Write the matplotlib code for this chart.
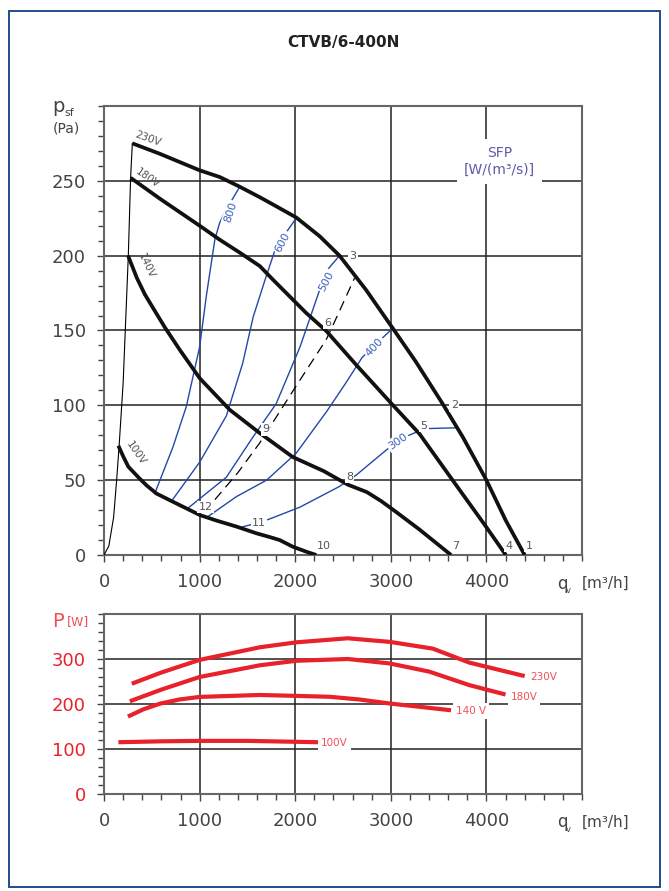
import matplotlib
matplotlib.use("Agg")
import matplotlib.pyplot as plt
from matplotlib.ticker import MultipleLocator
from matplotlib.patches import Rectangle

plt.rcParams['font.family'] = ['DejaVu Sans']

# pressure curves p_sf [Pa] vs q_v [m3/h]
q_230 = [296, 585, 1000, 1211, 1420, 1630, 1800, 2010, 2255, 2463, 2742, 3020, 3263, 3542, 3751, 4000, 4203, 4400]
p_230 = [275, 268, 257, 252.5, 246, 239, 233, 225.5, 213, 200, 177, 151.5, 129, 101, 79, 50, 23, 0]
q_180 = [278, 585, 1000, 1211, 1420, 1630, 1766, 2116, 2324, 2638, 3003, 3299, 3646, 3995, 4203]
p_180 = [252, 238, 220, 210.6, 202, 193, 184, 161.6, 149.7, 127, 101.4, 81, 50, 19, 0]
q_140 = [251, 344, 428, 532, 637, 793, 1002, 1315, 1628, 1973, 2300, 2550, 2750, 2900, 3050, 3300, 3630]
p_140 = [200, 185, 174, 163, 152, 137, 118, 97, 81.5, 65.5, 56, 47, 42, 36, 29, 17, 0]
q_100 = [150, 202, 254, 358, 445, 550, 723, 1002, 1176, 1385, 1594, 1733, 1837, 1976, 2116, 2220]
p_100 = [73, 65.7, 59, 52, 46.5, 41, 35.5, 26.7, 23, 19, 14.5, 12, 10, 5.5, 2.2, 0]

# thin system curve through the start points
q_sys = [0, 50, 100, 132, 160, 200, 254, 278, 296]
p_sys = [0, 6, 25, 50, 75, 115, 200, 252, 275]

# dashed curve 12-9-6
q_dash = [1160, 1400, 1630, 1980, 2325, 2420, 2620]
p_dash = [37, 55, 75, 110, 144, 157, 185]

# SFP iso lines [W/(m3/s)]
sfp_names = ["800", "600", "500", "400", "300"]
sfp_q = [
    [530, 720, 860, 1000, 1070, 1160, 1210, 1280, 1420],
    [706, 1000, 1280, 1450, 1560, 1680, 1800, 1900, 2010],
    [863, 1280, 1560, 1800, 2050, 2255, 2330, 2463],
    [1072, 1385, 1700, 2010, 2330, 2530, 2700, 2830, 3020],
    [1400, 1620, 1750, 2050, 2460, 2640, 2950, 3070, 3190, 3280, 3400, 3700],
]
sfp_p = [
    [41, 72, 99, 139, 173, 211, 222, 231, 246],
    [36, 62, 93, 128, 159, 183, 206, 215, 225],
    [30.5, 52, 79, 101, 139, 177, 190, 200],
    [25, 39, 50, 68, 96, 115, 132, 140, 151.5],
    [18, 21.6, 24.5, 32, 45.7, 53.5, 70, 75.7, 80, 82.4, 84.5, 85],
]
sfp_label_pos = [(1322, 229), (1865, 209), (2324, 183), (2829, 139), (3072, 76)]
sfp_label_rot = [72, 62, 62, 47, 35]

# operating point numbers
pt_names = ["1", "2", "3", "4", "5", "6", "7", "8", "9", "10", "11", "12"]
pt_q = [4447, 3664, 2603, 4238, 3344, 2338, 3681, 2568, 1688, 2296, 1621, 1061]
pt_p = [6, 100, 200, 6, 86.5, 155, 6, 52, 84, 6, 21.6, 32]

# power curves P [W]
pq_230 = [290, 600, 1000, 1630, 2010, 2550, 2990, 3440, 3820, 4400]
pw_230 = [245, 270, 298, 326, 337, 346, 338, 323, 292, 262]
pq_180 = [270, 600, 1000, 1630, 2010, 2550, 2990, 3400, 3820, 4200]
pw_180 = [206, 232, 260, 286, 296, 300, 290, 272, 242, 221]
pq_140 = [250, 410, 590, 790, 1000, 1630, 2010, 2360, 2670, 2990, 3630]
pw_140 = [172, 188, 201, 210, 215.7, 220, 218, 216, 210, 201, 186]
pq_100 = [150, 600, 1000, 1500, 2000, 2240]
pw_100 = [115, 117, 118, 118, 116, 115]

grey = '#555555'
blue = '#2448a8'
red = '#e8212b'
red_txt = '#f0505a'

fig = plt.figure(figsize=(6.69, 8.91), dpi=100)
fig.patches.append(Rectangle((0.014, 0.005), 0.972, 0.983, transform=fig.transFigure,
                             fill=False, edgecolor='#1f4e8c', linewidth=1.4))

fig.text(0.514, 0.952, "CTVB/6-400N", ha='center', va='center',
         fontsize=11, fontweight='bold', color='#222222')

W = 0.7145
ax = fig.add_axes([0.1555, 0.3771, W, 0.504])
ax2 = fig.add_axes([0.1555, 0.1089, W, 0.2020])


def style_axes(a, ymax, ymajor, yminor, ycolor):
    a.set_xlim(0, 5000)
    a.set_ylim(0, ymax)
    a.xaxis.set_major_locator(MultipleLocator(1000))
    a.xaxis.set_minor_locator(MultipleLocator(200))
    a.yaxis.set_major_locator(MultipleLocator(ymajor))
    a.yaxis.set_minor_locator(MultipleLocator(yminor))
    a.set_xticks([0, 1000, 2000, 3000, 4000])
    a.grid(True, which='major', color='#222222', linewidth=1.1, zorder=1)
    a.set_axisbelow(True)
    for s in a.spines.values():
        s.set_color('#666666')
        s.set_linewidth(1.5)
    a.tick_params(which='both', direction='out', color='#444444', width=1.0)
    a.tick_params(which='major', length=5, labelsize=13, pad=8)
    a.tick_params(which='minor', length=4)
    a.tick_params(axis='x', labelcolor='#444444')
    a.tick_params(axis='y', labelcolor=ycolor)


style_axes(ax, 300, 50, 10, '#444444')
style_axes(ax2, 400, 100, 20, red)
ax.set_yticks([0, 50, 100, 150, 200, 250])
ax2.set_yticks([0, 100, 200, 300])

# top chart
ax.plot(q_sys, p_sys, color='black', linewidth=0.8, zorder=3)
for qq, pp in zip(sfp_q, sfp_p):
    ax.plot(qq, pp, color=blue, linewidth=1.0, zorder=3)
ax.plot(q_dash, p_dash, color='black', linewidth=0.9, dashes=(8, 5), zorder=3)
for qq, pp in [(q_230, p_230), (q_180, p_180), (q_140, p_140), (q_100, p_100)]:
    ax.plot(qq, pp, color='#111111', linewidth=2.7, solid_capstyle='butt',
            solid_joinstyle='round', zorder=4)

wbox = dict(facecolor='white', edgecolor='none', pad=1.0)
for name, (x, y), rot in zip(sfp_names, sfp_label_pos, sfp_label_rot):
    ax.text(x, y, name, color='#3a62c0', fontsize=8, rotation=rot, ha='center', va='center',
            bbox=wbox, zorder=5)
for name, x, y in zip(pt_names, pt_q, pt_p):
    ax.text(x, y, name, color=grey, fontsize=8, ha='center', va='center',
            bbox=wbox, zorder=5)

ax.text(459, 278, "230V", color=grey, fontsize=7.5, rotation=-20, ha='center', va='center', zorder=5)
ax.text(459, 252, "180V", color=grey, fontsize=7.5, rotation=-35, ha='center', va='center', zorder=5)
ax.text(440, 193, "140V", color=grey, fontsize=7.5, rotation=-65, ha='center', va='center', zorder=5)
ax.text(330, 68, "100V", color=grey, fontsize=7.5, rotation=-55, ha='center', va='center', zorder=5)

ax.text(4134, 263, "SFP\n[W/(m³/s)]", color='#5c5ca8', fontsize=10, ha='center', va='center',
        linespacing=1.3, zorder=5,
        bbox=dict(facecolor='white', edgecolor='none', boxstyle='square,pad=0.5'))

# bottom chart
for qq, ww in [(pq_230, pw_230), (pq_180, pw_180), (pq_140, pw_140), (pq_100, pw_100)]:
    ax2.plot(qq, ww, color=red, linewidth=3.0, solid_capstyle='butt',
             solid_joinstyle='round', zorder=4)
for txt, x, y in [("230V", 4603, 259), ("180V", 4395, 215), ("140 V", 3838, 184), ("100V", 2411, 114)]:
    ax2.text(x, y, txt, color=red_txt, fontsize=7.5, ha='center', va='center',
             bbox=dict(facecolor='white', edgecolor='none', pad=2.0), zorder=5)

# axis titles
fig.text(0.087, 0.874, "p", fontsize=14, color='#444444', ha='center', va='baseline')
fig.text(0.104, 0.870, "sf", fontsize=8, color='#444444', ha='center', va='baseline')
fig.text(0.099, 0.856, "(Pa)", fontsize=10, color='#444444', ha='center', va='center')

fig.text(0.086, 0.303, "P", fontsize=14, color=red_txt, ha='center', va='center')
fig.text(0.116, 0.302, "[W]", fontsize=9, color=red_txt, ha='center', va='center')

for yy in [0.345, 0.077]:
    fig.text(0.840, yy, "q", fontsize=12, color='#444444', ha='center', va='center')
    fig.text(0.850, yy - 0.008, "v", fontsize=6, color='#444444', ha='center', va='center')
    fig.text(0.905, yy, "[m³/h]", fontsize=11, color='#444444', ha='center', va='center')

fig.savefig("out.png", dpi=100)
